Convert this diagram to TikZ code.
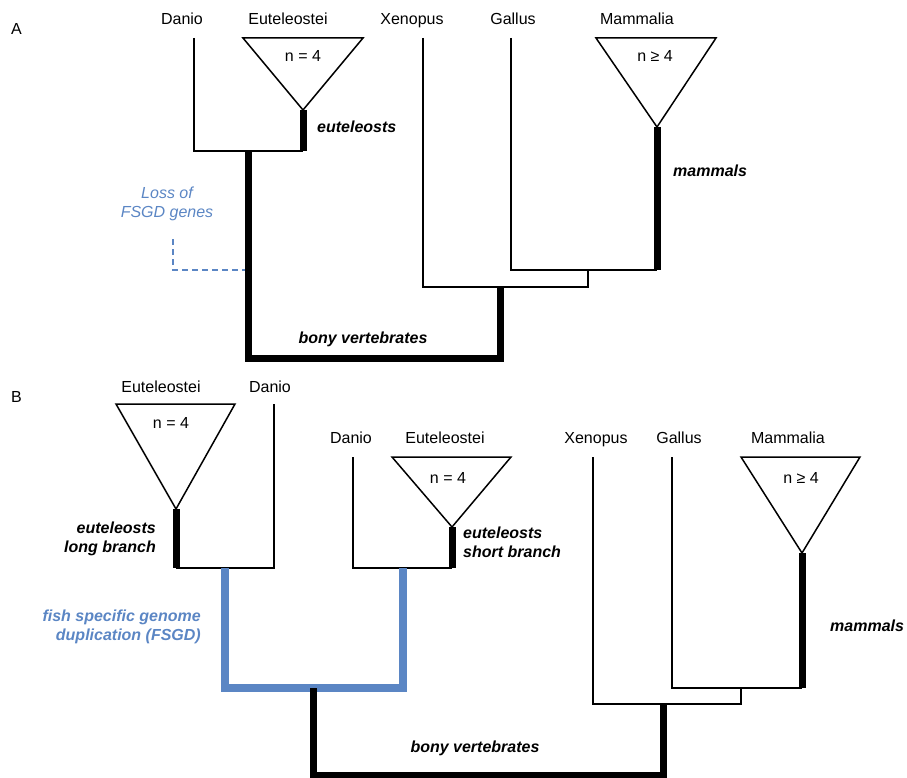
\documentclass[tikz,border=0pt]{standalone}
\usepackage{fontspec}
\setmainfont{Liberation Sans}
\usepackage{tikz}
\usetikzlibrary{calc}
\definecolor{fsgdblue}{RGB}{91,134,196}

\begin{document}
\begin{tikzpicture}[x=1pt, y=-1pt,
    taxon/.style={font=\fontsize{16}{19}\selectfont, anchor=base, inner sep=0pt},
    clade/.style={font=\fontsize{16}{19}\selectfont\bfseries\itshape, inner sep=0pt},
    note/.style={font=\fontsize{16}{19}\selectfont\itshape, text=fsgdblue, inner sep=0pt},
    branch/.style={line width=1.5pt},
    stem/.style={line width=7pt},
    dup/.style={line width=8pt, draw=fsgdblue},
    fan/.style={line width=1.5pt, line join=miter},
]
\useasboundingbox (0,0) rectangle (907,778);

\node[taxon, anchor=base west] (pA) at (11,35) {A};
\coordinate (aDan) at (194,38);
\coordinate (aEut) at (303,110);
\coordinate (aXen) at (423,38);
\coordinate (aGal) at (511,38);
\coordinate (aMam) at (657,127);
\coordinate (aFish) at (248,151);
\coordinate (aAmn) at (588,270);
\coordinate (aTetra) at (500,287);
\coordinate (aRoot) at (500,358);

\draw[fan] (243,38) -- (363,38) -- (aEut) -- cycle;
\draw[fan] (596,38) -- (716,38) -- (aMam) -- cycle;
\draw[branch] (aDan) |- (aEut |- aFish);
\draw[stem] (aEut) -- (aEut |- aFish);
\draw[stem] (aFish) |- (aRoot) -- (aTetra);
\draw[branch] (aXen) |- (aAmn |- aTetra) -- (aAmn);
\draw[branch] (aGal) |- (aMam |- aAmn);
\draw[stem] (aMam) -- (aMam |- aAmn);

\node[taxon] (aDanL) at (182,25) {Danio};
\node[taxon] (aEutL) at (288,25) {Euteleostei};
\node[taxon] (aXenL) at (412,25) {Xenopus};
\node[taxon] (aGalL) at (513,25) {Gallus};
\node[taxon] (aMamL) at (637,25) {Mammalia};
\node[taxon] (aEutN) at (303,62) {n = 4};
\node[taxon] (aMamN) at (655,62) {n ≥ 4};
\node[clade, anchor=base west] (aEutC) at (317,133) {euteleosts};
\node[clade, anchor=base west] (aMamC) at (673,177) {mammals};
\node[clade, anchor=base] (aBony) at (363,343) {bony vertebrates};
\node[note, anchor=base, align=center] (aLoss) at (167,218) {Loss of\\FSGD genes};
\coordinate (aLossTop) at (173,239);
\coordinate (aLossEnd) at (245,270);
\draw[fsgdblue, line width=1.5pt, dash pattern=on 6pt off 4pt] (aLossTop) |- (aLossEnd);

\node[taxon, anchor=base west] (pB) at (11,402) {B};
\coordinate (bEut1) at (176,509);
\coordinate (bDan1) at (274,404);
\coordinate (bDan2) at (353,457);
\coordinate (bEut2) at (452,527);
\coordinate (bXen) at (593,457);
\coordinate (bGal) at (672,457);
\coordinate (bMam) at (802,553);
\coordinate (bLong) at (225,568);
\coordinate (bShort) at (403,568);
\coordinate (bDup) at (313,688);
\coordinate (bRoot) at (663,775);
\coordinate (bTetra) at (663,704);
\coordinate (bAmn) at (741,688);

\draw[fan] (116,404) -- (235,404) -- (bEut1) -- cycle;
\draw[fan] (392,457) -- (511,457) -- (bEut2) -- cycle;
\draw[fan] (741,457) -- (860,457) -- (bMam) -- cycle;
\draw[branch] (bDan1) |- (bEut1 |- bLong);
\draw[stem] (bEut1) -- (bEut1 |- bLong);
\draw[branch] (bDan2) |- (bEut2 |- bShort);
\draw[stem] (bEut2) -- (bEut2 |- bShort);
\draw[dup] (bLong) |- (bShort |- bDup) -- (bShort);
\draw[stem] (bDup) |- (bRoot) -- (bTetra);
\draw[branch] (bXen) |- (bAmn |- bTetra) -- (bAmn);
\draw[branch] (bGal) |- (bMam |- bAmn);
\draw[stem] (bMam) -- (bMam |- bAmn);

\node[taxon] (bEut1L) at (161,392) {Euteleostei};
\node[taxon] (bDan1L) at (270,392) {Danio};
\node[taxon] (bEut1N) at (171,428) {n = 4};
\node[taxon] (bDan2L) at (351,443) {Danio};
\node[taxon] (bEut2L) at (445,443) {Euteleostei};
\node[taxon] (bEut2N) at (448,483) {n = 4};
\node[taxon] (bXenL) at (596,443) {Xenopus};
\node[taxon] (bGalL) at (679,443) {Gallus};
\node[taxon] (bMamL) at (788,443) {Mammalia};
\node[taxon] (bMamN) at (801,483) {n ≥ 4};
\node[clade, anchor=base east, align=right] (bLongC) at (156,552) {euteleosts\\long branch};
\node[clade, anchor=base west, align=left] (bShortC) at (463,557) {euteleosts\\short branch};
\node[clade, anchor=base east, align=right, text=fsgdblue] (bDupC) at (201,640) {fish specific genome\\duplication (FSGD)};
\node[clade, anchor=base west] (bMamC) at (830,631) {mammals};
\node[clade, anchor=base] (bBony) at (475,752) {bony vertebrates};
\end{tikzpicture}
\end{document}
